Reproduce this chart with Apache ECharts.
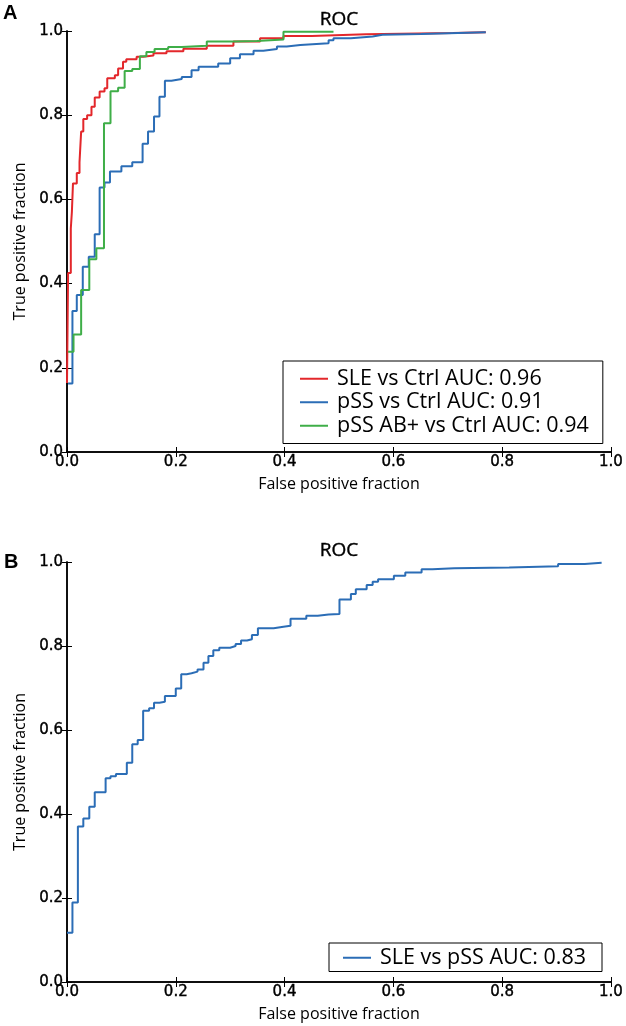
<!DOCTYPE html>
<html>
<head>
<meta charset="utf-8">
<script src="https://cdn.jsdelivr.net/npm/echarts@6/dist/echarts.min.js"></script>
<style>
    html, body { margin: 0; padding: 0; background: #fff; }
    #roc { width: 626px; height: 1026px; }
</style>
</head>
<body>
<div id="roc"></div>
<script>
    // panel A curves: [false positive fraction, true positive fraction]
    var sleCtrl = [
        [0, 0.164], [0.002, 0.425], [0.007, 0.531], [0.009, 0.571], [0.011, 0.638], [0.018, 0.663],
        [0.023, 0.688], [0.026, 0.761], [0.030, 0.791], [0.037, 0.800], [0.045, 0.820], [0.051, 0.842],
        [0.060, 0.856], [0.069, 0.864], [0.074, 0.888], [0.088, 0.895], [0.094, 0.911], [0.103, 0.927],
        [0.109, 0.933], [0.128, 0.939], [0.140, 0.942], [0.159, 0.947], [0.183, 0.952], [0.214, 0.958],
        [0.257, 0.965], [0.306, 0.975], [0.355, 0.983], [0.398, 0.988], [0.450, 0.992], [0.550, 0.995],
        [0.710, 0.997], [0.770, 0.997]
    ];
    var pssCtrl = [
        [0.002, 0.163], [0.010, 0.335], [0.018, 0.373], [0.029, 0.440], [0.040, 0.464], [0.051, 0.517],
        [0.060, 0.628], [0.069, 0.640], [0.079, 0.666], [0.100, 0.679], [0.120, 0.688], [0.139, 0.732],
        [0.149, 0.761], [0.160, 0.797], [0.170, 0.844], [0.180, 0.882], [0.192, 0.886], [0.211, 0.891],
        [0.229, 0.907], [0.242, 0.915], [0.278, 0.923], [0.300, 0.935], [0.318, 0.945], [0.343, 0.953],
        [0.361, 0.957], [0.386, 0.963], [0.404, 0.967], [0.429, 0.971], [0.481, 0.978], [0.490, 0.983],
        [0.522, 0.987], [0.562, 0.991], [0.580, 0.993], [0.651, 0.997], [0.770, 0.997]
    ];
    var pssAbCtrl = [
        [0.002, 0.238], [0.012, 0.279], [0.026, 0.385], [0.041, 0.458], [0.054, 0.484], [0.068, 0.781],
        [0.080, 0.857], [0.094, 0.865], [0.106, 0.905], [0.120, 0.910], [0.134, 0.940], [0.146, 0.950],
        [0.161, 0.957], [0.186, 0.962], [0.211, 0.965], [0.257, 0.975], [0.306, 0.976], [0.349, 0.980],
        [0.398, 0.998], [0.490, 0.998]
    ];
    // panel B curve
    var slePss = [
        [0, 0.117], [0.010, 0.189], [0.020, 0.370], [0.030, 0.389], [0.041, 0.417], [0.051, 0.452],
        [0.071, 0.485], [0.080, 0.490], [0.090, 0.495], [0.110, 0.522], [0.120, 0.566], [0.130, 0.576],
        [0.140, 0.646], [0.151, 0.652], [0.160, 0.665], [0.170, 0.667], [0.180, 0.681], [0.200, 0.699],
        [0.210, 0.733], [0.220, 0.735], [0.229, 0.739], [0.240, 0.744], [0.251, 0.760], [0.260, 0.776],
        [0.269, 0.790], [0.280, 0.796], [0.300, 0.800], [0.310, 0.805], [0.320, 0.813], [0.331, 0.816],
        [0.340, 0.826], [0.351, 0.842], [0.380, 0.846], [0.398, 0.848], [0.411, 0.865], [0.440, 0.872],
        [0.461, 0.875], [0.481, 0.876], [0.501, 0.911], [0.522, 0.924], [0.531, 0.935], [0.551, 0.945],
        [0.562, 0.953], [0.572, 0.959], [0.601, 0.967], [0.622, 0.975], [0.652, 0.983], [0.672, 0.985],
        [0.712, 0.987], [0.813, 0.990], [0.903, 0.995], [0.952, 0.998], [0.983, 0.998]
    ];

    var seriesNamesA = ['SLE vs Ctrl AUC: 0.96', 'pSS vs Ctrl AUC: 0.91', 'pSS AB+ vs Ctrl AUC: 0.94'];
    var seriesNameB = 'SLE vs pSS AUC: 0.83';
    var axisMin = 0, axisMax = 1, axisStep = 0.2;

    var red = '#e3272b', blue = '#2b6db6', green = '#3fae48';
    var tickFont = 'DejaVu Sans';
    var textFont = 'Open Sans';

    // tick labels look a little heavier than plain DejaVu
    var tickLabel = {
        fontFamily: tickFont, fontSize: 15, color: '#000',
        textBorderColor: '#000', textBorderWidth: 0.4,
        showMinLabel: true, showMaxLabel: true,
        formatter: function (v) { return v.toFixed(1); }
    };

    function xAxisPair(grid) {
        var base = {
            type: 'value', gridIndex: grid, min: axisMin, max: axisMax, interval: axisStep,
            splitLine: { show: false },
            axisLine: { lineStyle: { color: '#000', width: 1.5 } },
            axisTick: { inside: true, length: 5, lineStyle: { color: '#000' } }
        };
        var bottom = Object.assign({}, base, {
            position: 'bottom',
            name: 'False positive fraction', nameLocation: 'middle', nameGap: 24,
            nameTextStyle: { fontFamily: textFont, fontSize: 16, color: '#000' },
            axisLabel: Object.assign({ margin: 3 }, tickLabel)
        });
        var top = Object.assign({}, base, { position: 'top', axisLabel: { show: false } });
        return [bottom, top];
    }

    function yAxisPair(grid) {
        var base = {
            type: 'value', gridIndex: grid, min: axisMin, max: axisMax, interval: axisStep,
            splitLine: { show: false },
            axisLine: { lineStyle: { color: '#000', width: 1.5 } },
            axisTick: { inside: true, length: 5, lineStyle: { color: '#000' } }
        };
        var left = Object.assign({}, base, {
            position: 'left',
            name: 'True positive fraction', nameLocation: 'middle', nameGap: 30,
            nameTextStyle: { fontFamily: textFont, fontSize: 16, color: '#000' },
            axisLabel: Object.assign({ margin: 4 }, tickLabel)
        });
        var right = Object.assign({}, base, { position: 'right', axisLabel: { show: false } });
        return [left, right];
    }

    function rocSeries(name, data, color, axis) {
        return {
            name: name, type: 'line', step: 'end', data: data,
            xAxisIndex: axis, yAxisIndex: axis,
            showSymbol: false, silent: true, animation: false,
            color: color,
            lineStyle: { color: color, width: 2 }
        };
    }

    var legendBase = {
        orient: 'vertical', selectedMode: false,
        icon: 'rect', itemWidth: 28, itemHeight: 2, itemGap: 0,
        borderColor: '#000', borderWidth: 1, backgroundColor: '#fff',
        textStyle: { fontFamily: textFont, fontSize: 21.5, lineHeight: 23.5, color: '#000', padding: [0, 0, 0, 4] }
    };

    var titleStyle = { fontFamily: textFont, fontWeight: 'normal', fontSize: 19, color: '#000', textBorderColor: '#000', textBorderWidth: 0.4 };
    var panelStyle = { fontFamily: 'Liberation Sans', fontWeight: 'bold', fontSize: 20, color: '#000' };

    var chart = echarts.init(document.getElementById('roc'), null, { renderer: 'canvas' });
    var option = {
        backgroundColor: '#fff',
        title: [
            { text: 'A', left: 3, top: 3, padding: 0, textStyle: panelStyle },
            { text: 'ROC', left: 339, top: 10, padding: 0, textAlign: 'center', textStyle: titleStyle },
            { text: 'B', left: 4, top: 552, padding: 0, textStyle: panelStyle },
            { text: 'ROC', left: 339, top: 541, padding: 0, textAlign: 'center', textStyle: titleStyle }
        ],
        grid: [
            { left: 67, top: 31, width: 544, height: 421 },
            { left: 67, top: 562, width: 544, height: 420 }
        ],
        xAxis: xAxisPair(0).concat(xAxisPair(1)),
        yAxis: yAxisPair(0).concat(yAxisPair(1)),
        legend: [
            Object.assign({}, legendBase, { data: seriesNamesA, left: 283, top: 361, padding: [6, 14, 6, 17] }),
            Object.assign({}, legendBase, { data: [seriesNameB], left: 329, top: 943, padding: [3, 16, 2, 14] })
        ],
        series: [
            rocSeries(seriesNamesA[0], sleCtrl, red, 0),
            rocSeries(seriesNamesA[1], pssCtrl, blue, 0),
            rocSeries(seriesNamesA[2], pssAbCtrl, green, 0),
            rocSeries(seriesNameB, slePss, blue, 2)
        ]
    };
    chart.setOption(option);
</script>
</body>
</html>
